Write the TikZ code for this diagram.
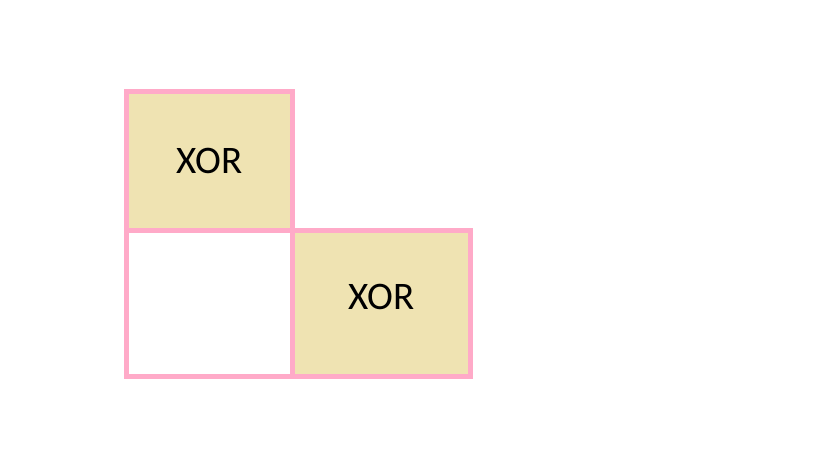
\documentclass[tikz,border=0pt]{standalone}
\usepackage{fontspec}
\setmainfont{Carlito}
\usetikzlibrary{positioning}
\definecolor{gatepink}{RGB}{255,170,200}
\definecolor{gatefill}{RGB}{239,227,178}
\begin{document}
\begin{tikzpicture}[x=1pt, y=-1pt,
        cell/.style={draw=gatepink, line width=4.7pt, rectangle, inner sep=0pt, outer sep=0pt, font=\fontsize{39}{47}\selectfont},
        xorcell/.style={cell, fill=gatefill},
        ]
        \useasboundingbox (0,0) rectangle (819,460);
        \node[xorcell, minimum width=165.7pt, minimum height=139pt] (xortop) at (209.35,161) {XOR};
        \node[cell, minimum width=165.7pt, minimum height=145.7pt, below=0pt of xortop] (blank) {};
        \node[xorcell, text depth=13pt, minimum width=178pt, minimum height=145.7pt, right=0pt of blank] (xorbottom) {XOR};
        \end{tikzpicture}
\end{document}
